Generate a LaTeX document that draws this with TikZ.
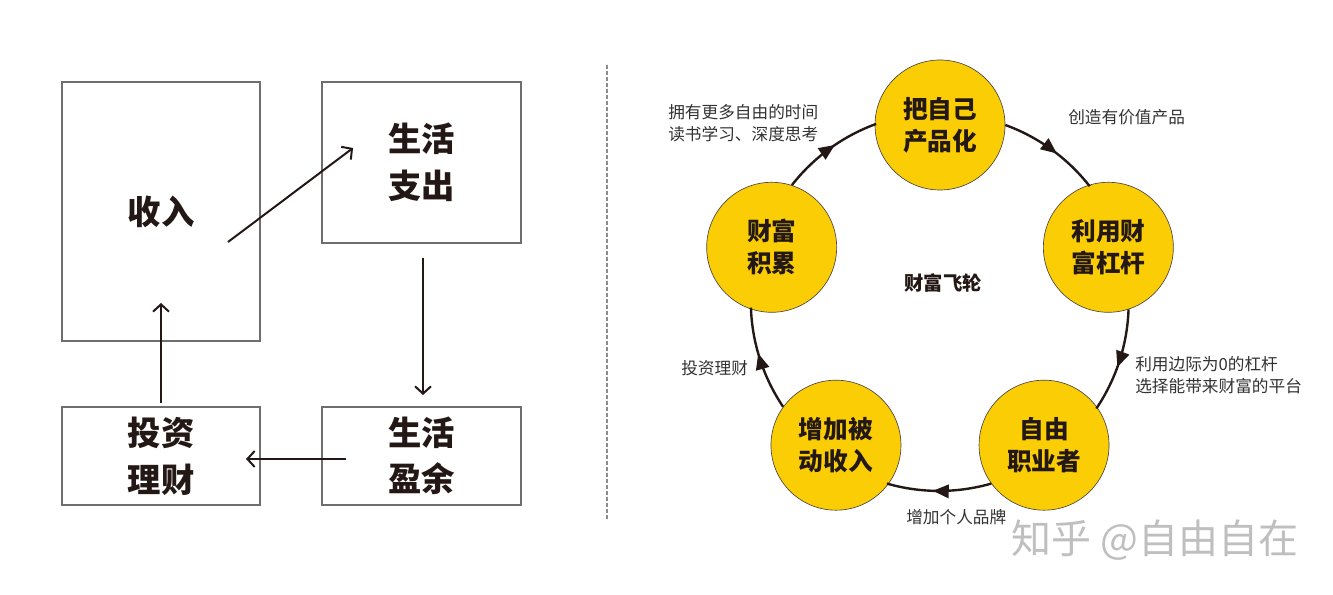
\documentclass[tikz,border=0pt]{standalone}
\usepackage{fontspec}
\setmainfont{Noto Sans CJK SC}[BoldFont={Noto Sans CJK SC Black}]
\usetikzlibrary{arrows.meta,decorations.markings,calc}
\definecolor{gold}{RGB}{250,205,5}
\definecolor{ink}{RGB}{35,24,21}
\definecolor{boxline}{RGB}{110,110,110}
\definecolor{labelc}{RGB}{50,50,50}
\tikzset{
  box/.style={draw=boxline,line width=0.8pt,inner sep=0pt,font=\fontsize{25pt}{35pt}\selectfont\bfseries,text=ink,align=center},
  bigarrow/.style={draw=ink,line width=1.5pt,-{Straight Barb[length=5.5pt,width=12pt,line width=1.5pt]}},
  wheel/.style={circle,fill=gold,draw=ink!80,line width=0.5pt,minimum size=97.5pt,inner sep=0pt,font=\fontsize{18.5pt}{24pt}\selectfont\bfseries,text=ink,align=center},
  flow/.style={draw=ink,line width=1.8pt,postaction={decorate},decoration={markings,mark=at position 0.56 with {\arrow{Triangle[length=12pt,width=10pt]}}}},
  lbl/.style={font=\fontsize{12.5pt}{16.5pt}\selectfont,text=labelc,align=left,inner sep=0pt,anchor=west}
}
\begin{document}
\begin{tikzpicture}[x=0.75pt,y=0.75pt]
\useasboundingbox (0,0) rectangle (1333,595);
% left diagram
\node[box,minimum width=148.5pt,minimum height=194.25pt] (inc) at (161,383.5) {收入};
\node[box,minimum width=149.25pt,minimum height=120.75pt] (exp) at (421.5,432.5) {生活\\支出};
\node[box,minimum width=148.5pt,minimum height=73.5pt] (inv) at (161,139) {投资\\理财};
\node[box,minimum width=149.25pt,minimum height=73.5pt] (sur) at (421.5,139) {生活\\盈余};
\coordinate (a1s) at (228,353);
\coordinate (a1e) at (353,447);
\coordinate (a2s) at (423,337);
\coordinate (a2e) at (423,200);
\coordinate (a3s) at (346,136);
\coordinate (a3e) at (246,136);
\coordinate (a4s) at (161,192);
\coordinate (a4e) at (161,292);
\draw[bigarrow] (a1s) -- (a1e);
\draw[bigarrow] (a2s) -- (a2e);
\draw[bigarrow] (a3s) -- (a3e);
\draw[bigarrow] (a4s) -- (a4e);
% divider
\coordinate (d1) at (607,530);
\coordinate (d2) at (607,75);
\draw[draw=black!45,line width=1.1pt,dash pattern=on 3pt off 1.5pt] (d1) -- (d2);
% flywheel
\coordinate (C) at (940,293);
\node[wheel] (top) at ($(C)+(90:132.75pt)$) {把自己\\产品化};
\node[wheel] (rt) at ($(C)+(18:132.75pt)$) {利用财\\富杠杆};
\node[wheel] (lr) at ($(C)+(306:132.75pt)$) {自由\\职业者};
\node[wheel] (ll) at ($(C)+(234:132.75pt)$) {增加被\\动收入};
\node[wheel] (lt) at ($(C)+(162:132.75pt)$) {财富\\积累};
\draw[flow] (top.0.5) arc[start angle=70,end angle=38,radius=141.75pt];
\draw[flow] (rt.288.5) arc[start angle=-2,end angle=-34,radius=141.75pt];
\draw[flow] (lr.216.5) arc[start angle=-74,end angle=-106,radius=141.75pt];
\draw[flow] (ll.144.5) arc[start angle=214,end angle=182,radius=141.75pt];
\draw[flow] (lt.72.5) arc[start angle=142,end angle=110,radius=141.75pt];
\node[font=\fontsize{14.5pt}{18pt}\selectfont\bfseries,text=ink] (title) at (943,312) {财富飞轮};
\node[lbl] (l1) at (668,472) {拥有更多自由的时间\\读书学习、深度思考};
\node[lbl] (l2) at (1068,478) {创造有价值产品};
\node[lbl] (l3) at (1135,219.5) {利用边际为0的杠杆\\选择能带来财富的平台};
\node[lbl] (l4) at (681,227) {投资理财};
\node[lbl] (l5) at (906,78) {增加个人品牌};
\node[font=\fontsize{30pt}{36pt}\selectfont,text=black!25,inner sep=0pt] (wm) at (1155,55) {知乎 @自由自在};
\end{tikzpicture}
\end{document}
